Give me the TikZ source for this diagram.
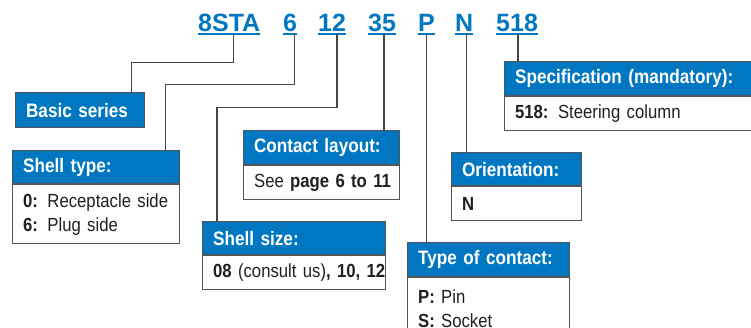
\documentclass[tikz,border=0pt]{standalone}
\usepackage{fontspec}
\setmainfont[FakeStretch=0.88,WordSpace=0.75]{Liberation Sans}
\newfontfamily\codefont{Liberation Sans}
\definecolor{tebl}{RGB}{0,119,192}
\definecolor{edge}{RGB}{85,85,85}
\definecolor{wire}{RGB}{70,70,70}
\definecolor{ink}{RGB}{35,31,32}
\begin{document}
\begin{tikzpicture}[x=1pt,y=-1pt,
    code/.style={font=\codefont\bfseries\fontsize{25}{30}\selectfont, text=tebl, anchor=base west, inner xsep=0pt, inner ysep=3pt, text depth=0pt},
    head/.style={anchor=north west, fill=tebl, draw=edge, line width=1.2pt, text=white, font=\bfseries\fontsize{19.5}{23}\selectfont, inner xsep=10.5pt, align=left, minimum height=34pt},
    body/.style={anchor=north west, fill=white, draw=edge, line width=1.2pt, text=ink, font=\fontsize{19}{24}\selectfont, inner xsep=10.5pt, align=left, minimum height=34pt},
    link/.style={draw=wire, line width=1.3pt},
    uline/.style={draw=tebl, line width=1.5pt}]
    \useasboundingbox (0,0) rectangle (751,327);
    \clip (0,0) rectangle (751,327);

    % Bestellcode
    \node[code] (c8sta) at (198,31) {8STA};
    \node[code] (c6) at (283,31) {6};
    \node[code] (c12) at (318,31) {12};
    \node[code] (c35) at (368,31) {35};
    \node[code] (cP) at (418,31) {P};
    \node[code] (cN) at (455,31) {N};
    \node[code] (c518) at (496,31) {518};
    \foreach \c in {c8sta,c6,c12,c35,cP,cN,c518}
        \draw[uline] (\c.south west) -- (\c.south east);

    % Kaesten
    \node[head, text width=108pt, minimum height=35pt] (basic) at (15,92) {Basic series};

    \node[head, text width=146pt, minimum height=33pt] (stype) at (12,150) {Shell type:};
    \node[body, text width=146pt, minimum height=59pt] (stypebody) at (stype.south west)
        {{\bfseries 0:} Receptacle side\\{\bfseries 6:} Plug side};

    \node[head, text width=135pt] (layout) at (243,130) {Contact layout:};
    \node[body, text width=135pt] (layoutbody) at (layout.south west)
        {\mbox{See {\bfseries page 6 to 11}}};

    \node[head, text width=162pt, minimum height=33pt] (ssize) at (202,221) {Shell size:};
    \node[body, text width=162pt] (ssizebody) at (ssize.south west)
        {\mbox{{\bfseries 08} (consult us){\bfseries, 10, 12}}};

    \node[head, text width=141pt] (contact) at (407,242) {Type of contact:};
    \node[body, text width=141pt, minimum height=62pt] (contactbody) at (contact.south west)
        {{\bfseries P:} Pin\\{\bfseries S:} Socket};

    \node[head, text width=109pt, minimum height=33pt] (orient) at (451,152) {Orientation:};
    \node[body, text width=109pt] (orientbody) at (orient.south west) {\bfseries N};

    \node[head, text width=255pt] (spec) at (504,61) {Specification (mandatory):};
    \node[body, text width=255pt] (specbody) at (spec.south west)
        {{\bfseries 518:} Steering column};

    % Verbindungen
    \draw[link] ([xshift=4pt]c8sta.south) -- ++(0,28) -| ([xshift=-14pt]basic.north east);
    \draw[link] ([xshift=4pt]c6.south) -- ++(0,50) -| ([xshift=-15pt]stype.north east);
    \draw[link] ([xshift=5pt]c12.south) -- ++(0,73) -| ([xshift=15pt]ssize.north west);
    \draw[link] ([xshift=2pt]c35.south) -- ([xshift=2pt]c35.south |- layout.north);
    \draw[link] (cP.south) -- (cP.south |- contact.north);
    \draw[link] ([xshift=2pt]cN.south) -- ([xshift=2pt]cN.south |- orient.north);
    \draw[link] ([xshift=1pt]c518.south) -- ([xshift=1pt]c518.south |- spec.north);
\end{tikzpicture}
\end{document}
